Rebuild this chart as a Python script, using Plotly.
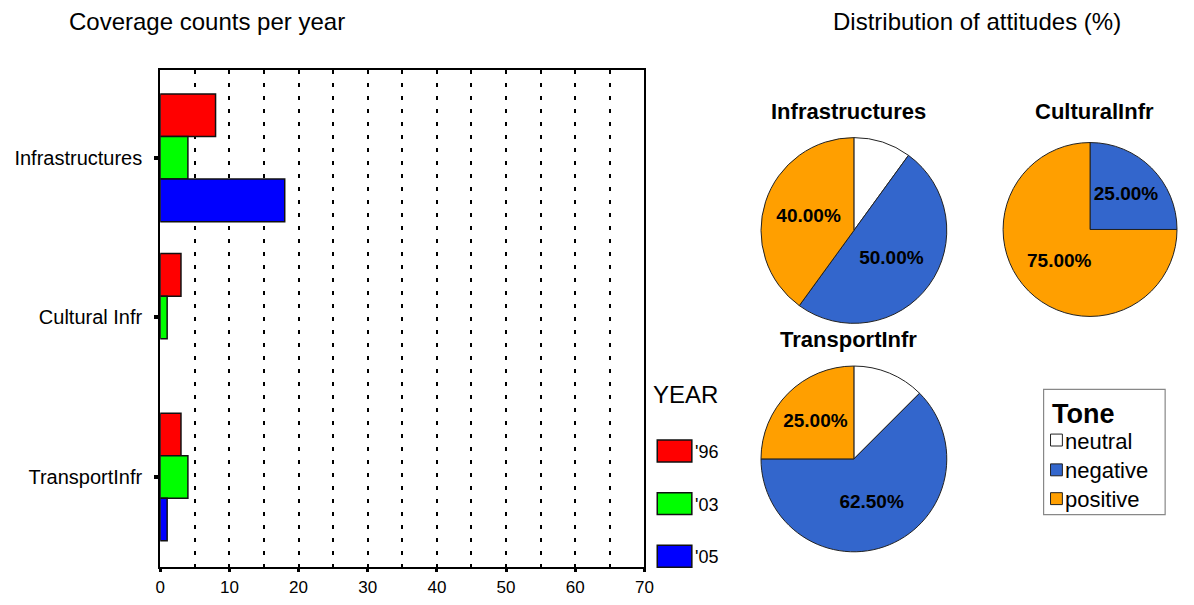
import plotly.graph_objects as go

# ---------------- data ----------------
categories = ["Infrastructures", "Cultural Infr", "TransportInfr"]
years = ["'96", "'03", "'05"]
year_colors = ["#FF0000", "#00FF00", "#0000FF"]
counts_96 = [8, 3, 3]
counts_03 = [4, 1, 4]
counts_05 = [18, 0, 1]
x_ticks = [0, 10, 20, 30, 40, 50, 60, 70]

tones = ["neutral", "negative", "positive"]
tone_colors = ["#FFFFFF", "#3366CC", "#FF9F00"]
pie_titles = ["Infrastructures", "CulturalInfr", "TransportInfr"]
pct_infra = [10.0, 50.0, 40.0]
pct_cultural = [0.0, 25.0, 75.0]
pct_transport = [12.5, 62.5, 25.0]

# the page body keeps an 8px margin, so the figure is placed 8px in
OFF = 8
W, H = 1194 - 2 * OFF, 605 - 2 * OFF
FONT = "Liberation Sans, Arial, sans-serif"


def px(x):
    return (x - OFF) / W


def py(y):
    return 1 - (y - OFF) / H


fig = go.Figure()

series = [counts_96, counts_03, counts_05]
for name, col, vals in zip(years, year_colors, series):
    fig.add_trace(go.Bar(
        y=categories, x=[v if v else None for v in vals], name=name, orientation="h",
        marker=dict(color=col, line=dict(color="#111111", width=1.5)),
        showlegend=False, xaxis="x", yaxis="y",
    ))

# pies
pie_data = [pct_infra, pct_cultural, pct_transport]
pie_domains = [
    dict(x=[px(765), px(953)], y=[py(326), py(138)]),
    dict(x=[px(1010), 1.0], y=[py(323), py(139)]),
    dict(x=[px(765), px(953)], y=[py(556), py(368)]),
]
for vals, dom in zip(pie_data, pie_domains):
    texts = ["" if (t == "neutral" or v == 0) else "<b>%.2f%%</b>" % v
             for t, v in zip(tones, vals)]
    fig.add_trace(go.Pie(
        labels=tones, values=vals, text=texts, textinfo="text",
        sort=False, direction="clockwise", rotation=0,
        marker=dict(colors=tone_colors, line=dict(color="#222222", width=1)),
        textposition="inside", insidetextorientation="horizontal",
        insidetextfont=dict(family=FONT, size=19, color="#000000"),
        domain=dom, showlegend=False, hoverinfo="label+percent",
    ))

# ---------------- layout ----------------
fig.update_layout(
    width=W, height=H,
    margin=dict(l=0, r=0, t=0, b=0),
    paper_bgcolor="white", plot_bgcolor="white",
    barmode="group", bargap=0.2, bargroupgap=0,
    font=dict(family=FONT, color="#000000"),
    xaxis=dict(
        domain=[px(157), px(647)], range=[0, 70],
        tickvals=x_ticks, ticktext=[str(v) for v in x_ticks],
        ticks="outside", ticklen=3, tickwidth=3, tickcolor="#000000",
        tickfont=dict(size=17, family=FONT),
        showgrid=True, gridcolor="#000000", griddash="4px,9px", gridwidth=1.5,
        minor=dict(dtick=5, showgrid=True, gridcolor="#000000",
                   griddash="4px,9px", gridwidth=1.5),
        showline=True, linecolor="#000000", linewidth=2, mirror=True,
        zeroline=False, fixedrange=True,
    ),
    yaxis=dict(
        domain=[py(571), py(70)], type="category",
        range=[2.565, -0.553],
        ticks="outside", ticklen=4, tickwidth=4, tickcolor="#000000",
        ticklabelstandoff=8,
        tickfont=dict(size=20, family=FONT),
        showline=True, linecolor="#000000", linewidth=2, mirror=True,
        showgrid=False, zeroline=False, fixedrange=True,
    ),
)

annotations = [
    dict(text="Coverage counts per year", x=px(204), y=py(22), font=dict(size=24)),
    dict(text="Distribution of attitudes (%)", x=px(984), y=py(22), font=dict(size=24)),
]
pie_title_pos = [(854, 112), (1103, 112), (854, 342)]
for t, (tx, ty) in zip(pie_titles, pie_title_pos):
    annotations.append(dict(text="<b>%s</b>" % t, x=px(tx), y=py(ty), font=dict(size=22)))

# year legend
annotations.append(dict(text="YEAR", x=px(654), y=py(397), xanchor="left", font=dict(size=24)))
shapes = []
year_leg_y = [(443, 465), (496, 518), (549, 571)]
for name, col, (y0, y1) in zip(years, year_colors, year_leg_y):
    shapes.append(dict(type="rect", xref="paper", yref="paper",
                       x0=px(660), x1=px(695), y0=py(y1), y1=py(y0),
                       fillcolor=col, line=dict(color="#111111", width=1.5)))
    annotations.append(dict(text=name, x=px(696), y=py((y0 + y1) / 2 + 1),
                            xanchor="left", font=dict(size=18)))

# tone legend
shapes.append(dict(type="rect", xref="paper", yref="paper",
                   x0=px(1051), x1=px(1174), y0=py(518), y1=py(392),
                   fillcolor="rgba(0,0,0,0)", line=dict(color="#888888", width=1.2)))
annotations.append(dict(text="<b>Tone</b>", x=px(1057), y=py(417), xanchor="left",
                        font=dict(size=27)))
tone_leg_y = [(437, 449), (467, 479), (496, 508)]
for name, col, (y0, y1) in zip(tones, tone_colors, tone_leg_y):
    shapes.append(dict(type="rect", xref="paper", yref="paper",
                       x0=px(1058), x1=px(1070), y0=py(y1), y1=py(y0),
                       fillcolor=col, line=dict(color="#222222", width=1)))
    annotations.append(dict(text=name, x=px(1071), y=py((y0 + y1) / 2 + 1),
                            xanchor="left", font=dict(size=22)))

for a in annotations:
    a.setdefault("xref", "paper")
    a.setdefault("yref", "paper")
    a.setdefault("showarrow", False)
    a.setdefault("xanchor", "center")
    a.setdefault("yanchor", "middle")
fig.update_layout(annotations=annotations, shapes=shapes)

fig.write_html("out.html", config={"displayModeBar": False})
